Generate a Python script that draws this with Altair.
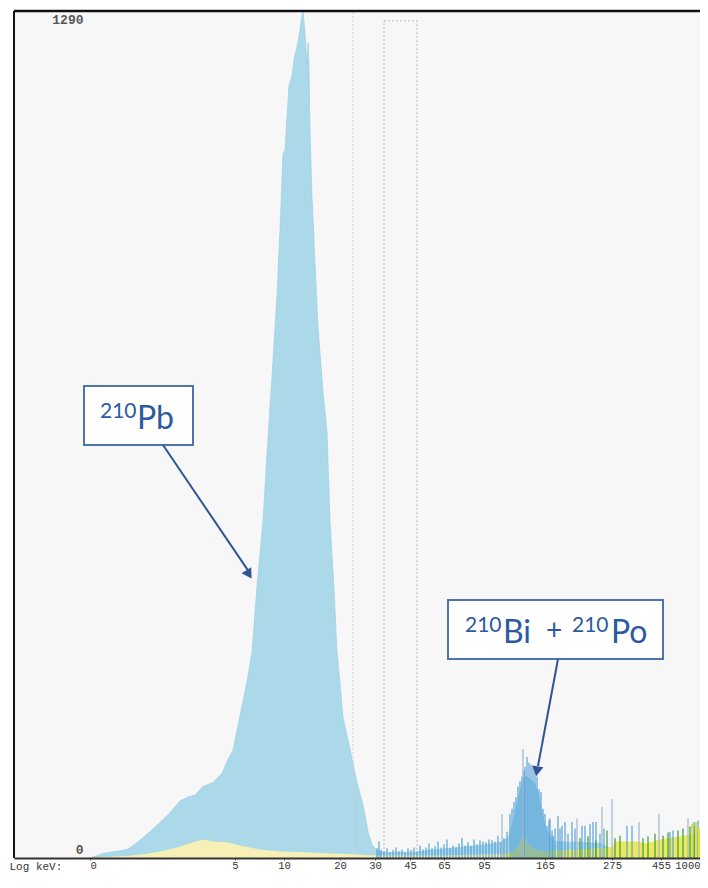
import altair as alt
import pandas as pd

# ---------------- data (channel axis, counts) ----------------
# main 210Pb peak (light blue area)
main_ch = [0, 13, 25, 37, 45, 60, 70, 80, 90, 98, 105, 113, 123, 132, 138, 143, 148, 153, 158, 162,
           167, 173, 179, 183, 187, 190, 193, 195, 199, 202, 204, 208, 210, 212, 213, 215, 216, 217,
           218, 219, 220, 222, 225, 228, 233, 237, 240, 244, 247, 253, 260, 267, 273, 276, 278, 282,
           286, 290, 300, 310, 320, 330, 340, 350, 360, 370, 380, 390, 400, 410, 418, 424, 428, 432,
           436, 440, 444, 448, 452, 456, 460, 466, 475, 490, 510, 520, 550, 610]
main_counts = [0, 7, 10, 13, 21, 40, 54, 69, 87, 93, 96, 109, 115, 129, 150, 164, 202, 239, 277, 314,
               414, 514, 664, 758, 858, 958, 1072, 1079, 1177, 1191, 1217, 1242, 1262, 1284, 1290, 1257,
               1232, 1206, 1242, 1206, 1108, 1008, 907, 809, 709, 649, 514, 410, 315, 215, 166, 115, 81,
               58, 40, 21, 12, 10, 8, 9, 8, 10, 12, 13, 15, 16, 18, 19, 21, 24, 30, 60, 90, 115, 125,
               120, 115, 100, 70, 45, 33, 25, 24, 24, 22, 15, 10, 10]

# background (yellow) spectrum
bg_left_ch = [0, 20, 37, 55, 70, 87, 103, 113, 123, 137, 153, 170, 190, 210, 240, 260, 277, 310, 360, 400, 415]
bg_left_counts = [0, 2, 3, 6, 10, 16, 24, 28, 25, 24, 18, 13, 10, 9, 7, 6, 4, 4, 4, 6, 7]
bg_right_ch = [415, 422, 428, 433, 438, 445, 455, 470, 490, 510, 522, 525, 548, 555, 570, 590, 605, 610]
bg_right_counts = [7, 10, 18, 36, 21, 13, 10, 12, 13, 15, 16, 25, 25, 22, 28, 33, 37, 39]

# 210Bi + 210Po region: individual channel spikes
blue_ch = [287, 289, 291, 294, 297, 300, 303, 306, 309, 312, 315, 318, 321, 324, 327, 330, 333, 336,
           339, 342, 345, 348, 351, 354, 357, 360, 363, 366, 369, 372, 375, 378, 381, 384, 387, 390,
           393, 396, 399, 402, 405, 408, 411, 414, 417, 420, 422, 424, 426, 428, 430, 432, 434, 435,
           437, 439, 441, 443, 445, 447, 449, 451, 453, 455, 457, 459, 460, 462, 463, 465, 468, 470,
           472, 475, 478, 482, 485, 492, 495, 500, 503, 506, 510, 514, 537, 542, 580, 583, 604, 608]
blue_counts = [15, 25, 13, 10, 15, 9, 12, 16, 10, 13, 9, 15, 12, 16, 10, 19, 13, 16, 22, 15, 18, 25,
               16, 21, 28, 15, 19, 16, 22, 31, 19, 24, 18, 28, 21, 27, 25, 24, 28, 27, 25, 34, 24, 30,
               40, 67, 75, 85, 93, 109, 117, 124, 132, 139, 154, 145, 142, 139, 132, 124, 105, 100, 75,
               67, 49, 57, 60, 42, 34, 45, 64, 45, 49, 55, 37, 55, 45, 49, 49, 52, 55, 55, 37, 45, 49,
               49, 40, 42, 55, 57]
gray_ch = [412, 433, 487, 512, 522, 549, 569, 598]
gray_counts = [67, 166, 60, 78, 90, 55, 67, 60]
green_ch = [490, 498, 506, 517, 525, 530, 553, 558, 565, 573, 578, 588, 593, 600, 605]
green_counts = [30, 33, 27, 42, 30, 34, 30, 33, 37, 34, 39, 42, 45, 48, 49]
yellow_ch = [602, 606, 609]
yellow_counts = [52, 55, 45]

# axis ticks (channel position -> keV label)
tick_ch = [0, 145, 194, 250, 285, 320, 354, 394, 455, 522, 571, 610]
tick_labels = ["0", "5", "10", "20", "30", "45", "65", "95", "165", "275", "455", "1000"]
y_ticks = [0, 1290]

# region markers
marker_line_ch = [263]
window_ch = [294]
window_ch2 = [327]
window_top = [1275]

# annotations
box_x = [-6, 358]
box_x2 = [103, 573]
box_y = [629, 303]
box_y2 = [719, 393]
ann_text = ["210", "Pb", "210", "Bi", "+", "210", "Po"]
ann_ch = [10, 47, 375, 413, 464, 482, 521]
ann_counts = [670, 653, 344, 327, 332, 344, 327]
ann_size = [21, 32, 21, 32, 28, 21, 32]
ann_align = ["left", "left", "left", "left", "center", "left", "left"]
arrow_x = [73, 468]
arrow_y = [629, 303]
arrow_x2 = [158, 448]
arrow_y2 = [438, 140]
head_x = [159, 447]
head_y = [432, 132]
head_angle = [148, 189]

# ---------------- chart ----------------
XS = alt.Scale(domain=[-76, 610], nice=False, zero=False)
YS = alt.Scale(domain=[0, 1290], nice=False, zero=True)

MONO = "Liberation Mono"
BLUE_TXT = "#2c5aa0"

label_expr = ("[" + ",".join("'%s'" % t for t in tick_labels) + "][indexof(["
              + ",".join(str(v) for v in tick_ch) + "], datum.value)]")

X_AXIS = alt.Axis(
    values=tick_ch, labelExpr=label_expr, title="Log keV:", grid=False, zindex=1,
    domainColor="#333333", domainWidth=1.8, tickColor="#555555", tickSize=2,
    labelPadding=0, labelFont=MONO, labelFontSize=10.5, labelColor="#333333",
    labelAlign={"condition": [{"test": "datum.value === 0", "value": "left"},
                              {"test": "datum.value === 610", "value": "right"}],
                "value": "center"},
    labelBaseline="top", labelOverlap=False,
    titleFont=MONO, titleFontSize=11, titleFontWeight="normal", titleColor="#333333",
    titleX=-5, titleY=2, titleAlign="left", titleBaseline="top", titleAnchor="start")
Y_AXIS = alt.Axis(
    values=y_ticks, title=None, grid=False, domain=False, ticks=False, zindex=1, format="d",
    labelPadding=-69, labelFont=MONO, labelFontSize=13, labelFontWeight="bold",
    labelColor="#555555", labelFlush=True, labelFlushOffset=-2)


def xenc(field):
    return alt.X(field, scale=XS, axis=X_AXIS)


def yenc(field):
    return alt.Y(field, scale=YS, axis=Y_AXIS)


main_df = pd.DataFrame({"ch": main_ch, "counts": main_counts})
base_main = alt.Chart(main_df).mark_area(color="#acd9ea", interpolate="linear", stroke="#94cbe0",
                                         strokeWidth=0.6).encode(
    x=xenc("ch:Q"), y=yenc("counts:Q"))


def area_layer(xs, ys, color):
    df = pd.DataFrame({"ch": xs, "counts": ys})
    return alt.Chart(df).mark_area(color=color, interpolate="linear").encode(
        x=xenc("ch:Q"), y=yenc("counts:Q"))


def spike_layer(xs, ys, color, width=1.5):
    df = pd.DataFrame({"ch": xs, "counts": ys, "zero": [0] * len(xs)})
    return alt.Chart(df).mark_rule(color=color, strokeWidth=width).encode(
        x=xenc("ch:Q"), y=yenc("counts:Q"), y2="zero:Q")


bg_left = area_layer(bg_left_ch, bg_left_counts, "#f6f0b6")
bg_right = area_layer(bg_right_ch, bg_right_counts, "#ecea5a")

blue_sp = spike_layer(blue_ch, blue_counts, "#4a9ad6", 1.1)
gray_sp = spike_layer(gray_ch, gray_counts, "#9fb6cc", 1.2)
green_sp = spike_layer(green_ch, green_counts, "#45a04e", 1.3)
yellow_sp = spike_layer(yellow_ch, yellow_counts, "#e2e23a", 2)

mk_df = pd.DataFrame({"ch": marker_line_ch, "lo": [0], "hi": [1290]})
marker = alt.Chart(mk_df).mark_rule(color="#d0d0d0", strokeDash=[2, 2], strokeWidth=1).encode(
    x=xenc("ch:Q"), y=yenc("lo:Q"), y2="hi:Q")

win_df = pd.DataFrame({"ch": window_ch, "ch2": window_ch2, "lo": [0], "hi": window_top})
window = alt.Chart(win_df).mark_rect(fillOpacity=0, stroke="#b8b8b8", strokeDash=[2, 2],
                                      strokeWidth=1).encode(
    x=xenc("ch:Q"), x2="ch2:Q", y=yenc("lo:Q"), y2="hi:Q")

box_df = pd.DataFrame({"x": box_x, "x2": box_x2, "y": box_y, "y2": box_y2})
boxes = alt.Chart(box_df).mark_rect(fill="white", stroke="#4f74ad", strokeWidth=2).encode(
    x=xenc("x:Q"), x2="x2:Q", y=yenc("y:Q"), y2="y2:Q")

arr_df = pd.DataFrame({"x": arrow_x, "y": arrow_y, "x2": arrow_x2, "y2": arrow_y2})
arrows = alt.Chart(arr_df).mark_rule(color="#2f5597", strokeWidth=2).encode(
    x=xenc("x:Q"), x2="x2:Q", y=yenc("y:Q"), y2="y2:Q")

head_df = pd.DataFrame({"x": head_x, "y": head_y, "a": head_angle})
heads = alt.Chart(head_df).mark_point(shape="triangle-up", filled=True, color="#2f5597",
                                      opacity=1, size=130).encode(
    x=xenc("x:Q"), y=yenc("y:Q"), angle=alt.Angle("a:Q", scale=None))

txt_df = pd.DataFrame({"ch": ann_ch, "counts": ann_counts, "t": ann_text, "fs": ann_size,
                       "al": ann_align})
texts_left = alt.Chart(txt_df[txt_df["al"] == "left"]).mark_text(
    font="Lato", color=BLUE_TXT, align="left", baseline="alphabetic").encode(
    x=xenc("ch:Q"), y=yenc("counts:Q"), text="t:N", size=alt.Size("fs:Q", scale=None))
texts_center = alt.Chart(txt_df[txt_df["al"] == "center"]).mark_text(
    font="Lato", color=BLUE_TXT, align="center", baseline="alphabetic").encode(
    x=xenc("ch:Q"), y=yenc("counts:Q"), text="t:N", size=alt.Size("fs:Q", scale=None))

top_border = alt.Chart(pd.DataFrame({"d": [0]})).mark_rule(color="#111111", strokeWidth=2.5).encode(
    x=alt.value(0), x2=alt.value(686), y=alt.value(0))
left_border = alt.Chart(pd.DataFrame({"d": [0]})).mark_rule(color="#111111", strokeWidth=2).encode(
    x=alt.value(0), y=alt.value(0), y2=alt.value(847))

chart = alt.layer(
    base_main, marker, window, bg_left, bg_right, blue_sp, gray_sp, green_sp, yellow_sp,
    boxes, arrows, heads, texts_left, texts_center, top_border, left_border
).properties(
    width=686, height=847,
    autosize=alt.AutoSizeParams(type="none"),
    padding={"left": 6, "top": 3, "right": 0, "bottom": 14},
    background="white",
).configure_view(fill="#f7f7f7", stroke="transparent")

chart.save("out.html", embed_options={"renderer": "svg", "actions": False})
